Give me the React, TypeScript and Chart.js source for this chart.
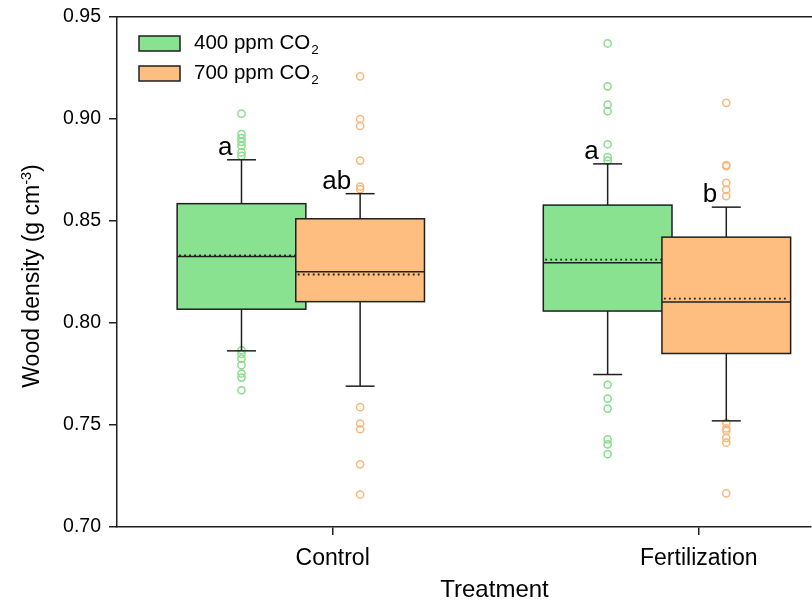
import React, { useEffect, useRef } from 'react';
import { Chart, registerables } from 'chart.js';

Chart.register(...registerables);

// ---------- data ----------
const categories = ['Control', 'Fertilization'];
const yTickValues = [0.7, 0.75, 0.8, 0.85, 0.9, 0.95];

const legendMain = ['400 ppm CO', '700 ppm CO'];
const legendSub = '2';

// 400 ppm CO2
const q1_400 = [0.8067, 0.8058];
const median_400 = [0.8325, 0.8295];
const mean_400 = [0.833, 0.831];
const q3_400 = [0.8584, 0.8577];
const whiskerLow_400 = [0.7863, 0.7747];
const whiskerHigh_400 = [0.8799, 0.8779];
const letters_400 = ['a', 'a'];
const outliersControl_400 = [0.9025, 0.8925, 0.8905, 0.8887, 0.8868, 0.8835, 0.8818, 0.7866, 0.7848, 0.7825, 0.7793, 0.7752, 0.7732, 0.767];
const outliersFert_400 = [0.9369, 0.9159, 0.9069, 0.9037, 0.8875, 0.8812, 0.8795, 0.7697, 0.7629, 0.758, 0.7429, 0.7405, 0.7357];

// 700 ppm CO2
const q1_700 = [0.8104, 0.785];
const median_700 = [0.825, 0.8102];
const mean_700 = [0.8237, 0.8119];
const q3_700 = [0.851, 0.842];
const whiskerLow_700 = [0.769, 0.752];
const whiskerHigh_700 = [0.8633, 0.8567];
const letters_700 = ['ab', 'b'];
const outliersControl_700 = [0.9208, 0.8998, 0.8965, 0.8795, 0.8668, 0.8655, 0.7587, 0.7507, 0.7479, 0.7307, 0.7159];
const outliersFert_700 = [0.9078, 0.8773, 0.8768, 0.8686, 0.8652, 0.8621, 0.751, 0.7483, 0.7471, 0.7437, 0.7413, 0.7165];

// ---------- styles ----------
const FONT = '"Liberation Sans", Arial, Helvetica, sans-serif';
const INK = '#1f1f1f';
const FILL_400 = '#89E290';
const FILL_700 = '#FDBE7F';
const PT_400 = '#86DE8B';
const PT_700 = '#FBB77A';
const OFFSET_400 = -0.249;
const OFFSET_700 = 0.075;
const BOX_W = 0.3515;
const CAP_FRAC = 0.225;
const SHIFT_Y = 3; // canvas is shifted up by this many px inside the frame

const series = [
  { offset: OFFSET_400, fill: FILL_400, q1: q1_400, med: median_400, mean: mean_400, q3: q3_400, lo: whiskerLow_400, hi: whiskerHigh_400, letters: letters_400 },
  { offset: OFFSET_700, fill: FILL_700, q1: q1_700, med: median_700, mean: mean_700, q3: q3_700, lo: whiskerLow_700, hi: whiskerHigh_700, letters: letters_700 },
];

const toPoints = (lists: number[][], offset: number) =>
  lists.flatMap((vals, ci) => vals.map((v) => ({ x: ci + 1 + offset, y: v })));

const boxPlugin = {
  id: 'boxes',
  afterDatasetsDraw(chart: any) {
    const { ctx, scales } = chart;
    const x = scales.x;
    const y = scales.y;
    const line = (x1: number, y1: number, x2: number, y2: number) => {
      ctx.beginPath();
      ctx.moveTo(x1, y1);
      ctx.lineTo(x2, y2);
      ctx.stroke();
    };
    ctx.save();
    series.forEach((s) => {
      categories.forEach((_c, ci) => {
        const cx = x.getPixelForValue(ci + 1 + s.offset);
        const left = x.getPixelForValue(ci + 1 + s.offset - BOX_W / 2);
        const right = x.getPixelForValue(ci + 1 + s.offset + BOX_W / 2);
        const capHalf = ((right - left) * CAP_FRAC) / 2;
        const yq1 = y.getPixelForValue(s.q1[ci]);
        const yq3 = y.getPixelForValue(s.q3[ci]);
        const ymed = y.getPixelForValue(s.med[ci]);
        const ymean = y.getPixelForValue(s.mean[ci]);
        const ylo = y.getPixelForValue(s.lo[ci]);
        const yhi = y.getPixelForValue(s.hi[ci]);
        ctx.setLineDash([]);
        ctx.strokeStyle = INK;
        ctx.lineWidth = 1.5;
        line(cx, yq3, cx, yhi);
        line(cx - capHalf, yhi, cx + capHalf, yhi);
        line(cx, yq1, cx, ylo);
        line(cx - capHalf, ylo, cx + capHalf, ylo);
        ctx.fillStyle = s.fill;
        ctx.fillRect(left, yq3, right - left, yq1 - yq3);
        ctx.strokeRect(left, yq3, right - left, yq1 - yq3);
        line(left, ymed, right, ymed);
        ctx.setLineDash([1.8, 3.2]);
        ctx.lineWidth = 1.8;
        line(left + 2, ymean, right - 2, ymean);
        ctx.setLineDash([]);
        ctx.fillStyle = '#000';
        ctx.font = `26px ${FONT}`;
        ctx.textAlign = 'right';
        ctx.textBaseline = 'alphabetic';
        ctx.fillText(s.letters[ci], cx - 9, yhi - 5);
      });
    });
    ctx.restore();
  },
  afterDraw(chart: any) {
    const { ctx, chartArea } = chart;
    ctx.save();
    // top frame line
    ctx.strokeStyle = INK;
    ctx.lineWidth = 1.5;
    ctx.beginPath();
    ctx.moveTo(chartArea.left, chartArea.top);
    ctx.lineTo(chart.width, chartArea.top);
    ctx.stroke();

    // legend
    const fills = [FILL_400, FILL_700];
    legendMain.forEach((txt, i) => {
      const top = 36 + SHIFT_Y + i * 30;
      ctx.fillStyle = fills[i];
      ctx.fillRect(139, top, 41, 15);
      ctx.strokeStyle = INK;
      ctx.lineWidth = 1.5;
      ctx.strokeRect(139, top, 41, 15);
      ctx.fillStyle = '#000';
      ctx.textAlign = 'left';
      ctx.textBaseline = 'alphabetic';
      ctx.font = `20.5px ${FONT}`;
      ctx.fillText(txt, 194, top + 13);
      const w = ctx.measureText(txt).width;
      ctx.font = `13.5px ${FONT}`;
      ctx.fillText(legendSub, 194 + w + 1, top + 18);
    });

    // y title
    ctx.save();
    ctx.translate(39, 276 + SHIFT_Y);
    ctx.rotate(-Math.PI / 2);
    ctx.fillStyle = '#000';
    ctx.textBaseline = 'alphabetic';
    ctx.textAlign = 'left';
    const main = 'Wood density (g cm';
    const sup = '-3';
    const end = ')';
    ctx.font = `23px ${FONT}`;
    const w1 = ctx.measureText(main).width;
    const w3 = ctx.measureText(end).width;
    ctx.font = `14.5px ${FONT}`;
    const w2 = ctx.measureText(sup).width;
    let x0 = -(w1 + w2 + w3) / 2;
    ctx.font = `23px ${FONT}`;
    ctx.fillText(main, x0, 0);
    x0 += w1;
    ctx.font = `14.5px ${FONT}`;
    ctx.fillText(sup, x0, -8.5);
    x0 += w2;
    ctx.font = `23px ${FONT}`;
    ctx.fillText(end, x0, 0);
    ctx.restore();

    // x title
    ctx.fillStyle = '#000';
    ctx.font = `24px ${FONT}`;
    ctx.textAlign = 'center';
    ctx.textBaseline = 'alphabetic';
    ctx.fillText('Treatment', 494.5, 597 + SHIFT_Y);
    ctx.restore();
  },
};

export default function App() {
  const ref = useRef<HTMLCanvasElement | null>(null);
  useEffect(() => {
    if (!ref.current) return;
    const chart = new Chart(ref.current, {
      type: 'scatter',
      data: {
        datasets: [
          {
            label: '400',
            data: toPoints([outliersControl_400, outliersFert_400], OFFSET_400),
            borderColor: PT_400,
            backgroundColor: 'rgba(0,0,0,0)',
            pointRadius: 3.6,
            borderWidth: 1.5,
          },
          {
            label: '700',
            data: toPoints([outliersControl_700, outliersFert_700], OFFSET_700),
            borderColor: PT_700,
            backgroundColor: 'rgba(0,0,0,0)',
            pointRadius: 3.6,
            borderWidth: 1.5,
          },
        ],
      },
      options: {
        animation: false,
        responsive: false,
        devicePixelRatio: 1,
        layout: { padding: { top: 16, right: 0, left: 0, bottom: 0 } },
        plugins: { legend: { display: false }, tooltip: { enabled: false } },
        scales: {
          x: {
            type: 'linear',
            min: 0.411,
            max: 2.305,
            afterBuildTicks: (scale: any) => {
              scale.ticks = categories.map((_c, i) => ({ value: i + 1 }));
            },
            afterFit: (scale: any) => {
              scale.height = 74;
            },
            ticks: {
              autoSkip: false,
              maxRotation: 0,
              padding: 10,
              color: '#000',
              font: { family: FONT, size: 23 },
              callback: (v: any) => categories[Math.round(v) - 1] ?? '',
            },
            grid: { drawOnChartArea: false, drawTicks: true, tickLength: 8, color: INK, lineWidth: 1.5 },
            border: { display: true, color: INK, width: 1.5 },
          },
          y: {
            type: 'linear',
            min: 0.7,
            max: 0.95,
            afterBuildTicks: (scale: any) => {
              scale.ticks = yTickValues.map((v) => ({ value: v }));
            },
            afterFit: (scale: any) => {
              scale.width = 117;
            },
            ticks: {
              padding: 8,
              color: '#000',
              font: { family: FONT, size: 19.5 },
              callback: (v: any) => Number(v).toFixed(2),
            },
            grid: { drawOnChartArea: false, drawTicks: true, tickLength: 8, color: INK, lineWidth: 1.5 },
            border: { display: true, color: INK, width: 1.5 },
          },
        },
      },
      plugins: [boxPlugin],
    } as any);
    return () => chart.destroy();
  }, []);
  return (
    <div style={{ position: 'absolute', left: 0, top: 0, width: 812, height: 601, background: '#fff', overflow: 'hidden' }}>
      <canvas
        ref={ref}
        width={816}
        height={601 + SHIFT_Y}
        style={{ display: 'block', position: 'absolute', left: 0, top: -SHIFT_Y, width: 816, height: 601 + SHIFT_Y }}
      />
    </div>
  );
}
